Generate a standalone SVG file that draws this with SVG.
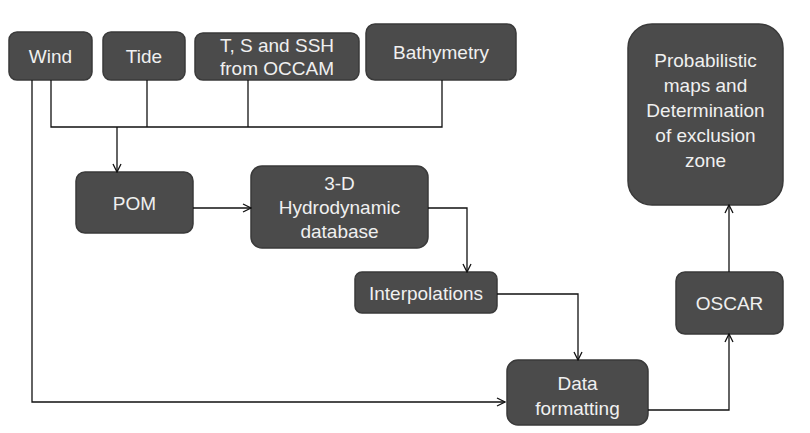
<svg xmlns="http://www.w3.org/2000/svg" width="810" height="433" viewBox="0 0 810 433">
<defs>
<marker id="ah" markerWidth="10" markerHeight="10" refX="9" refY="5" orient="auto" markerUnits="userSpaceOnUse">
<path d="M1,1 L9,5 L1,9" fill="none" stroke="#111" stroke-width="1.3"/>
</marker>
</defs>
<style>
.box{fill:#4b4b4b;stroke:#3a3a3a;stroke-width:1.5}
.t{font-family:"Liberation Sans",Arial,sans-serif;font-size:19px;fill:#f0f0f0;text-anchor:middle}
.c{fill:none;stroke:#111;stroke-width:1.3}
</style>
<rect width="810" height="433" fill="#ffffff"/>
<g id="wind"><rect class="box" x="9" y="32" width="83" height="48" rx="8"/><text class="t" x="50.5" y="63">Wind</text></g>
<g id="tide"><rect class="box" x="103" y="32" width="82" height="48" rx="8"/><text class="t" x="144" y="63">Tide</text></g>
<g id="tssh"><rect class="box" x="195" y="33" width="164" height="47" rx="8"/><text class="t" x="277" y="52">T, S and SSH</text><text class="t" x="277" y="75">from OCCAM</text></g>
<g id="bathy"><rect class="box" x="366" y="24" width="150" height="56" rx="9"/><text class="t" x="441" y="59">Bathymetry</text></g>
<g id="pom"><rect class="box" x="76" y="172" width="117" height="61" rx="9"/><text class="t" x="134.5" y="210">POM</text></g>
<g id="hydro"><rect class="box" x="251" y="166" width="177" height="82" rx="11"/><text class="t" x="339.5" y="190">3-D</text><text class="t" x="339.5" y="214">Hydrodynamic</text><text class="t" x="339.5" y="238">database</text></g>
<g id="interp"><rect class="box" x="355" y="272" width="142" height="41" rx="7"/><text class="t" x="426" y="300">Interpolations</text></g>
<g id="format"><rect class="box" x="507" y="360" width="141" height="65" rx="11"/><text class="t" x="577.5" y="390">Data</text><text class="t" x="577.5" y="415">formatting</text></g>
<g id="oscar"><rect class="box" x="676" y="272" width="107" height="62" rx="9"/><text class="t" x="729.5" y="310">OSCAR</text></g>
<g id="prob"><rect class="box" x="628" y="24" width="155" height="181" rx="24"/><text class="t" x="705.5" y="67">Probabilistic</text><text class="t" x="705.5" y="92">maps and</text><text class="t" x="705.5" y="117">Determination</text><text class="t" x="705.5" y="142">of exclusion</text><text class="t" x="705.5" y="167">zone</text></g>
<g id="connectors">
<path class="c" d="M51,80 V127 H442 V80"/>
<path class="c" d="M147,80 V127"/>
<path class="c" d="M248,80 V127"/>
<path class="c" d="M117,127 V172" marker-end="url(#ah)"/>
<path class="c" d="M32,80 V402 H505" marker-end="url(#ah)"/>
<path class="c" d="M193,208 H251" marker-end="url(#ah)"/>
<path class="c" d="M428,208 H467 V272" marker-end="url(#ah)"/>
<path class="c" d="M497,294 H578 V360" marker-end="url(#ah)"/>
<path class="c" d="M648,410 H729 V334" marker-end="url(#ah)"/>
<path class="c" d="M729,272 V205" marker-end="url(#ah)"/>
</g>
</svg>
